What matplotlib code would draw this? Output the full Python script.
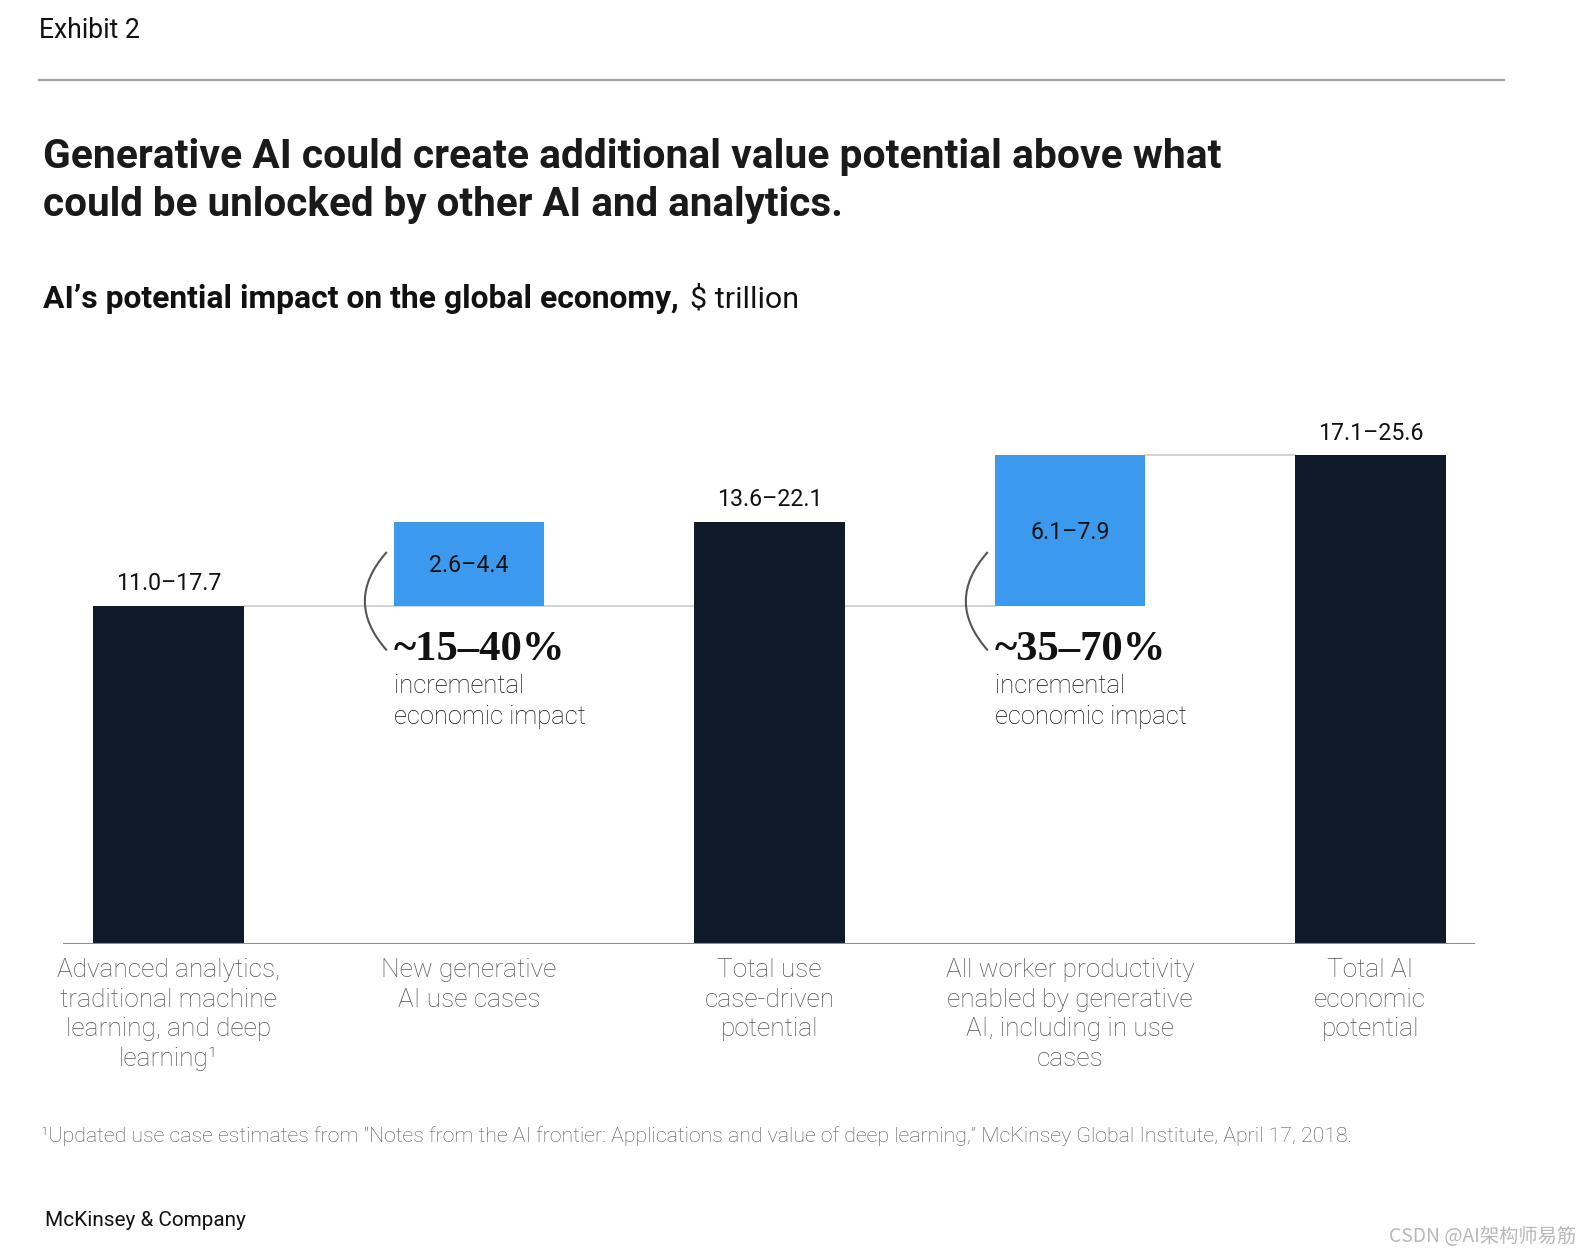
import matplotlib
matplotlib.use("Agg")
import matplotlib.pyplot as plt
from matplotlib.lines import Line2D
from matplotlib.path import Path
from matplotlib.patches import PathPatch
from matplotlib.transforms import IdentityTransform

# ---------------- data ----------------
categories = [
    "Advanced analytics,\ntraditional machine\nlearning, and deep\nlearning\u00b9",
    "New generative\nAI use cases",
    "Total use\ncase-driven\npotential",
    "All worker productivity\nenabled by generative\nAI, including in use\ncases",
    "Total AI\neconomic\npotential",
]
low_values = [11.0, 2.6, 13.6, 6.1, 17.1]
high_values = [17.7, 4.4, 22.1, 7.9, 25.6]
bar_kind = ["total", "increment", "total", "increment", "total"]
pct_labels = ["~15\u201340%", "~35\u201370%"]

# ---------------- style ----------------
W, H = 1592, 1254
SANS = "Roboto"
SERIF = "Liberation Serif"
DARK = "#0f1b2a"
BLUE = "#3c9aee"

fig = plt.figure(figsize=(W / 100, H / 100), dpi=100)
renderer = fig.canvas.get_renderer()


def fit(t, width):
    for _ in range(3):
        bb = t.get_window_extent(renderer)
        t.set_fontsize(t.get_fontsize() * width / bb.width)
    return t


def ftext(x, y, s, width=None, **kw):
    t = fig.text(x / W, 1 - y / H, s, **kw)
    if width:
        fit(t, width)
    return t


# header
ftext(39, 30, "Exhibit 2", width=101, family=SANS, color="#111111", va="center", fontsize=18)
fig.add_artist(Line2D([39 / W, 1504 / W], [1 - 80 / H] * 2, color="#a3a3a3", lw=1.6))
ftext(43, 157.3, "Generative AI could create additional value potential above what",
      width=1179, family=SANS, weight="bold", color="#1a1a1a", va="center", fontsize=28)
ftext(43, 205.0, "could be unlocked by other AI and analytics.",
      width=803, family=SANS, weight="bold", color="#1a1a1a", va="center", fontsize=28)
ftext(43, 299, "AI\u2019s potential impact on the global economy,", width=638,
      family=SANS, weight="bold", color="#111111", va="center", fontsize=19)
ftext(690, 299, "$ trillion", width=109, family=SANS, weight="normal",
      color="#111111", va="center", fontsize=19)

# footer
ftext(41, 1136.5, "\u00b9Updated use case estimates from \"Notes from the AI frontier: Applications and value of "
      "deep learning,\u201d McKinsey Global Institute, April 17, 2018.", width=1305,
      family=SANS, weight="light", color="#555555", va="center", fontsize=13)
ftext(45, 1220.5, "McKinsey & Company", width=201, family=SANS, color="#111111",
      va="center", fontsize=14)
ftext(1389, 1236, "CSDN @AI\u67b6\u6784\u5e08\u6613\u7b4b", width=187,
      family=["Noto Sans CJK SC", "DejaVu Sans"], color="#b8b8b8", va="center", fontsize=12)

# ---------------- axes ----------------
ax = fig.add_axes([63 / W, 1 - 944 / H, 1412 / W, (944 - 371) / H])
ax.set_xlim(-0.351, 4.348)
ax.set_ylim(0, 30)
for s in ax.spines.values():
    s.set_visible(False)
ax.set_yticks([])

x = list(range(len(categories)))
bw = 0.5
bottoms = [0 if k == "total" else high_values[0] for k in bar_kind]
colors = [DARK if k == "total" else BLUE for k in bar_kind]
ax.bar(x, high_values, bottom=bottoms, width=bw, color=colors, zorder=2)

# connectors
ax.plot([x[0] + bw / 2, x[3] - bw / 2], [high_values[0]] * 2, color="#cccccc", lw=1.2, zorder=1)
ax.plot([x[3] + bw / 2, x[4] - bw / 2], [bottoms[3] + high_values[3]] * 2,
        color="#cccccc", lw=1.2, zorder=1)
ax.axhline(0, color="#8f8f8f", lw=1.5, zorder=3)

# value labels
tmp = fig.text(0, 0, "11.0\u201317.7", family=SANS, fontsize=16)
fit(tmp, 105.6)
val_fs = tmp.get_fontsize()
tmp.remove()
PX = 0.72  # points per pixel at dpi 100
for i, k in enumerate(bar_kind):
    lab = f"{low_values[i]:.1f}\u2013{high_values[i]:.1f}"
    if k == "total":
        ax.annotate(lab, xy=(x[i], high_values[i]), xytext=(0, 22 * PX),
                    textcoords="offset points", ha="center", va="center",
                    family=SANS, fontsize=val_fs, color="#111111")
    else:
        ax.annotate(lab, xy=(x[i], bottoms[i] + high_values[i] / 2), xytext=(0, -2 * PX),
                    textcoords="offset points", ha="center", va="center",
                    family=SANS, fontsize=val_fs, color="#111111", zorder=4)

# percent annotations
tmp = fig.text(0, 0, pct_labels[0], family=SERIF, weight="bold", fontsize=30)
fit(tmp, 171.5)
pct_fs = tmp.get_fontsize()
tmp.remove()
tmp = fig.text(0, 0, "economic impact", family=SANS, weight="light", fontsize=18)
fit(tmp, 192)
sub_fs = tmp.get_fontsize()
tmp.remove()

incr_idx = [i for i, k in enumerate(bar_kind) if k == "increment"]
for idx, pct in zip(incr_idx, pct_labels):
    edge = x[idx] - bw / 2
    level = bottoms[idx]
    ax.annotate(pct, xy=(edge, level), xytext=(0, -44 * PX), textcoords="offset points",
                ha="left", va="center", family=SERIF, weight="bold", fontsize=pct_fs,
                color="#111111")
    ax.annotate("incremental", xy=(edge, level), xytext=(0, -80 * PX), textcoords="offset points",
                ha="left", va="center", family=SANS, weight="light", fontsize=sub_fs,
                color="#111111")
    ax.annotate("economic impact", xy=(edge, level), xytext=(0, -111 * PX),
                textcoords="offset points", ha="left", va="center", family=SANS,
                weight="light", fontsize=sub_fs, color="#111111")
    # bracket arc
    px, py = ax.transData.transform((edge, level))
    top = (px - 7, py + 54)
    bot = (px - 7, py - 44.5)
    ctrl = (px - 7 - 44, (top[1] + bot[1]) / 2)
    path = Path([top, ctrl, bot], [Path.MOVETO, Path.CURVE3, Path.CURVE3])
    fig.add_artist(PathPatch(path, transform=IdentityTransform(), fill=False,
                             edgecolor="#555555", lw=1.5))

# category labels
tmp = fig.text(0, 0, "Advanced analytics,", family=SANS, weight="light", fontsize=18)
fit(tmp, 223)
cat_fs = tmp.get_fontsize()
tmp.remove()
ax.set_xticks(x)
ax.set_xticklabels(categories, family=SANS, weight="light", fontsize=cat_fs,
                   color="#555555", linespacing=1.3)
ax.tick_params(axis="x", length=0, pad=10)

fig.savefig("out.png", dpi=100)
